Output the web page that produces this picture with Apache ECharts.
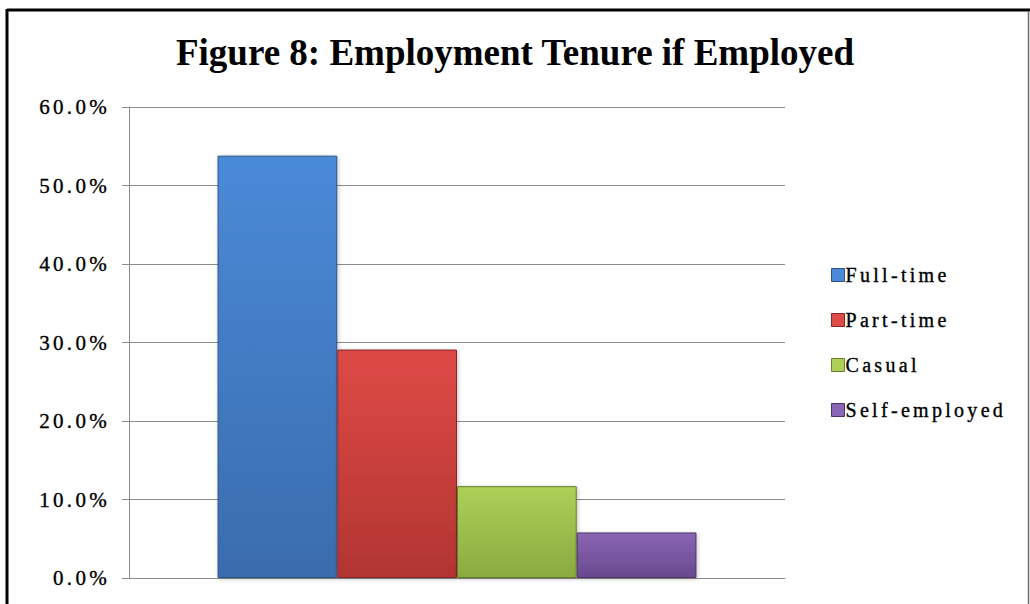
<!DOCTYPE html>
<html>
<head>
<meta charset="utf-8">
<script src="https://cdn.jsdelivr.net/npm/echarts@6/dist/echarts.min.js"></script>
<style>
  html, body { margin: 0; padding: 0; background: #fff; }
  #chart { width: 1030px; height: 604px; }
  /* the axis and legend captions are set with loose tracking and a heavier stroke; the heading is not */
  #chart svg text { letter-spacing: 3.3px; stroke: #000; stroke-width: 0.35px; }
  #chart svg text[style*="bold"], #chart svg text[font-weight="bold"] { letter-spacing: 0; stroke: none; }
</style>
</head>
<body>
<div id="chart"></div>
<script>
// Employment tenure shares (percent of employed respondents)
const categories = [''];
const seriesNames = ['Full-time', 'Part-time', 'Casual', 'Self-employed'];
const seriesValues = [53.8, 29.1, 11.7, 5.8];
const yTicks = [0, 10, 20, 30, 40, 50, 60];

// face colours: [top, bottom, edge]
const palette = [
  ['#4a8ad8', '#3a6cad', '#2c5487'],
  ['#de4a46', '#b23532', '#86262a'],
  ['#acd057', '#8aaa40', '#66802c'],
  ['#8a66b4', '#684a8e', '#4c346a']
];

const serif = 'Liberation Serif, Times New Roman, serif';

const chart = echarts.init(document.getElementById('chart'), null, { renderer: 'svg' });

const series = seriesNames.map((name, i) => ({
  name: name,
  type: 'bar',
  barGap: '0%',
  barCategoryGap: '27%',
  data: [seriesValues[i]],
  itemStyle: {
    color: new echarts.graphic.LinearGradient(0, 0, 0, 1, [
      { offset: 0, color: palette[i][0] },
      { offset: 1, color: palette[i][1] }
    ]),
    borderColor: palette[i][2],
    borderWidth: 1,
    shadowColor: 'rgba(0,0,0,0.25)',
    shadowBlur: 4,
    shadowOffsetX: 1,
    shadowOffsetY: 1
  },
  emphasis: { disabled: true }
}));

chart.setOption({
  animation: false,
  backgroundColor: '#fff',
  title: {
    text: 'Figure 8: Employment Tenure if Employed',
    left: 'center',
    top: 29,
    textStyle: {
      fontFamily: serif,
      fontWeight: 'bold',
      fontSize: 37,
      color: '#000'
    }
  },
  legend: {
    orient: 'vertical',
    left: 826,
    top: 260,
    icon: 'rect',
    itemWidth: 13,
    itemHeight: 13,
    itemGap: 25,
    data: seriesNames.map((n, i) => ({
      name: n,
      itemStyle: { color: palette[i][0], borderColor: palette[i][2], borderWidth: 1, shadowBlur: 0 }
    })),
    textStyle: { fontFamily: serif, fontSize: 20, color: '#000', padding: [0, 0, 0, -4] }
  },
  grid: { left: 129, right: 245, top: 107, bottom: 26 },
  xAxis: {
    type: 'category',
    data: categories,
    axisLine: { lineStyle: { color: '#8c8c8c', width: 1 } },
    axisTick: { show: false },
    axisLabel: { show: false }
  },
  yAxis: {
    type: 'value',
    min: yTicks[0],
    max: yTicks[yTicks.length - 1],
    interval: 10,
    axisLine: { show: true, lineStyle: { color: '#8c8c8c', width: 1 } },
    axisTick: { show: true, length: 7, lineStyle: { color: '#8c8c8c' } },
    splitLine: { lineStyle: { color: '#8c8c8c', width: 1 } },
    axisLabel: {
      margin: 19,
      fontFamily: serif,
      fontSize: 21,
      color: '#000',
      formatter: v => v.toFixed(1) + '%'
    }
  },
  graphic: [
    // outer frame: heavy top and left rules, thin right rule
    { type: 'line', shape: { x1: 7, y1: 10, x2: 1030, y2: 10 }, style: { stroke: '#000', lineWidth: 3 } },
    { type: 'line', shape: { x1: 7, y1: 9, x2: 7, y2: 604 }, style: { stroke: '#000', lineWidth: 3 } },
    { type: 'line', shape: { x1: 1028.5, y1: 11, x2: 1028.5, y2: 604 }, style: { stroke: '#6e6e6e', lineWidth: 1.5 } }
  ],
  series: series
});
</script>
</body>
</html>
